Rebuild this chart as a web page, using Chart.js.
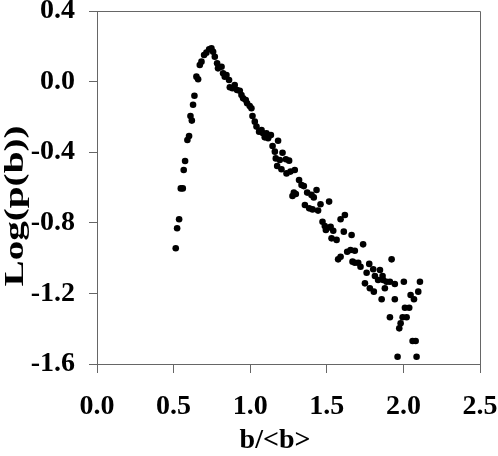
<!DOCTYPE html>
<html><head><meta charset="utf-8">
<script src="https://cdn.jsdelivr.net/npm/chart.js@4"></script>
<style>html,body{margin:0;padding:0;background:#fff}</style>
</head><body>
<canvas id="c" width="498" height="456"></canvas>
<script>
const xValues = [
0.514,0.523,0.536,0.547,0.560,0.566,0.575,0.590,0.601,0.610,0.619,0.627,0.636,0.649,0.660,0.671,0.682,0.699,0.714,0.732,
0.747,0.758,0.769,0.784,0.790,0.813,0.823,0.834,0.845,0.862,0.867,0.884,0.899,0.914,0.932,0.943,0.954,0.971,0.980,0.997,
1.008,1.015,1.030,1.041,1.058,1.074,1.084,1.095,1.106,1.117,
1.135,1.182,1.146,1.161,1.211,1.167,1.193,1.233,1.254,1.176,1.204,1.237,1.263,1.291,1.319,1.335,1.350,1.285,1.276,1.298,
1.372,1.400,1.433,1.415,1.357,1.385,1.407,1.443,1.459,1.515,1.472,1.487,1.502,1.525,1.494,1.542,1.531,1.564,1.590,1.618,
1.611,1.662,1.737,1.590,1.574,1.633,1.655,1.683,1.668,1.683,1.705,1.720,1.923,1.777,1.760,1.803,1.847,1.814,1.835,1.868,
1.864,1.890,1.912,1.944,2.003,2.108,1.749,1.781,1.807,1.879,1.858,1.944,2.047,2.069,2.097,2.010,2.038,1.912,1.995,2.021,
1.982,1.973,2.060,2.080,1.962,2.086
];
const yValues = [
-0.944,-0.831,-0.780,-0.605,-0.605,-0.501,-0.450,-0.331,-0.308,-0.195,-0.221,-0.131,-0.080,0.028,0.013,0.094,0.113,0.151,0.164,0.183,
0.189,0.169,0.141,0.104,0.075,0.084,0.047,0.028,0.037,0.009,-0.032,-0.038,-0.019,-0.048,-0.052,-0.076,-0.095,-0.104,-0.123,-0.138,
-0.151,-0.195,-0.227,-0.255,-0.284,-0.274,-0.293,-0.316,-0.293,-0.321,
-0.303,-0.335,-0.365,-0.397,-0.403,-0.435,-0.444,-0.440,-0.448,-0.478,-0.497,-0.520,-0.510,-0.501,-0.558,-0.586,-0.592,-0.629,-0.648,-0.637,
-0.629,-0.642,-0.614,-0.656,-0.699,-0.718,-0.724,-0.731,-0.695,-0.680,-0.794,-0.818,-0.831,-0.822,-0.841,-0.845,-0.888,-0.897,-0.780,-0.756,
-0.850,-0.869,-0.922,-0.992,-1.007,-0.964,-0.954,-0.958,-1.020,-1.026,-1.026,-1.049,-1.007,-1.033,-1.083,-1.063,-1.067,-1.101,-1.124,-1.124,
-1.101,-1.134,-1.134,-1.147,-1.134,-1.134,-1.143,-1.171,-1.190,-1.171,-1.233,-1.233,-1.209,-1.233,-1.190,-1.281,-1.281,-1.335,-1.335,-1.335,
-1.369,-1.398,-1.470,-1.470,-1.559,-1.559
];
const xTickValues = [0, 0.5, 1.0, 1.5, 2.0, 2.5];
const yTickValues = [-1.6, -1.2, -0.8, -0.4, 0.0, 0.4];
const xTitle = 'b/<b>';
const yTitle = 'Log(p(b))';

const FAMILY = "'Liberation Serif','Times New Roman',serif";
const FONT = {family: FAMILY, weight: 'bold', size: 28, lineHeight: 1};
const AXIS = '#666';

const framePlugin = {
  id: 'frame',
  afterDraw(chart) {
    const {ctx, chartArea: a} = chart;
    ctx.save();
    ctx.strokeStyle = AXIS;
    ctx.lineWidth = 1;
    ctx.beginPath();
    ctx.moveTo(Math.round(a.left) + 0.5, Math.round(a.top) + 0.5);
    ctx.lineTo(Math.round(a.right) + 0.5, Math.round(a.top) + 0.5);
    ctx.lineTo(Math.round(a.right) + 0.5, Math.round(a.bottom) + 0.5);
    ctx.stroke();
    // axis titles
    ctx.fillStyle = '#000';
    ctx.textAlign = 'center';
    ctx.textBaseline = 'middle';
    ctx.font = "bold 28px " + FAMILY;
    ctx.fillText(xTitle, 275, 441);
    ctx.translate(16, 206);
    ctx.rotate(-Math.PI / 2);
    ctx.scale(1.45, 1);
    ctx.font = "bold 27px " + FAMILY;
    ctx.fillText(yTitle, 0, 0);
    ctx.restore();
  }
};

new Chart(document.getElementById('c'), {
  type: 'scatter',
  data: {
    datasets: [{
      data: xValues.map((x, i) => ({x: x, y: yValues[i]})),
      pointRadius: 3.3,
      pointHoverRadius: 3.3,
      backgroundColor: '#000',
      borderColor: '#000',
      borderWidth: 0
    }]
  },
  options: {
    responsive: false,
    animation: false,
    events: [],
    layout: {padding: {top: 11, right: 18, left: 0, bottom: 0}},
    plugins: {legend: {display: false}, tooltip: {enabled: false}},
    scales: {
      x: {
        type: 'linear', min: 0, max: 2.5,
        afterBuildTicks: s => { s.ticks = xTickValues.map(v => ({value: v})); },
        ticks: {callback: v => Number(v).toFixed(1), font: FONT, color: '#000', padding: 20, maxRotation: 0, autoSkip: false},
        grid: {drawOnChartArea: false, drawTicks: true, tickLength: 9, color: AXIS},
        border: {color: AXIS},
        title: {display: false},
        afterFit: s => { s.height = 92; s.paddingLeft = 0; s.paddingRight = 0; }
      },
      y: {
        type: 'linear', min: -1.6, max: 0.4,
        afterBuildTicks: s => { s.ticks = yTickValues.map(v => ({value: v})); },
        ticks: {callback: v => Number(v).toFixed(1), font: FONT, color: '#000', padding: 14, autoSkip: false},
        grid: {drawOnChartArea: false, drawTicks: true, tickLength: 8, color: AXIS},
        border: {color: AXIS},
        title: {display: false},
        afterFit: s => { s.width = 97; s.paddingTop = 0; s.paddingBottom = 0; }
      }
    }
  },
  plugins: [framePlugin]
});
</script>
</body></html>
